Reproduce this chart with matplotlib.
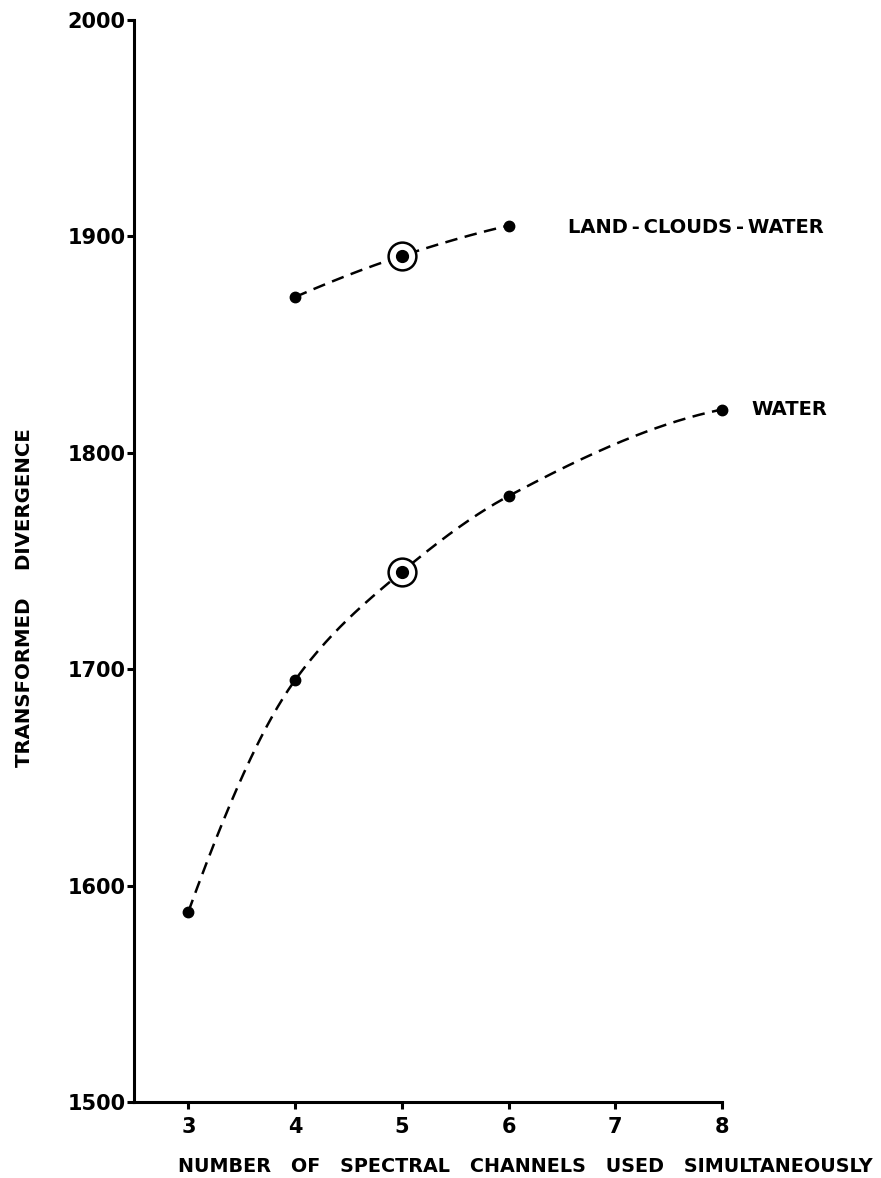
import numpy as np
import matplotlib
matplotlib.use("Agg")
import matplotlib.pyplot as plt

# ---- data ----
water_x = [3, 4, 5, 6, 8]
water_y = [1588, 1695, 1745, 1780, 1820]
lcw_x = [4, 5, 6]
lcw_y = [1872, 1891, 1905]
circled_x = [5, 5]
circled_y = [1745, 1891]
x_ticks = [3, 4, 5, 6, 7, 8]
y_ticks = [1500, 1600, 1700, 1800, 1900, 2000]
series_labels = ["WATER", "LAND\u2009-\u2009CLOUDS\u2009-\u2009WATER"]
x_title = "NUMBER   OF   SPECTRAL   CHANNELS   USED   SIMULTANEOUSLY"
y_title = "TRANSFORMED    DIVERGENCE"


def pchip(x, y, n=300):
    x = np.asarray(x, float)
    y = np.asarray(y, float)
    h = np.diff(x)
    d = np.diff(y) / h
    k = len(x)
    m = np.zeros(k)
    for i in range(1, k - 1):
        if d[i - 1] * d[i] > 0:
            w1 = 2 * h[i] + h[i - 1]
            w2 = h[i] + 2 * h[i - 1]
            m[i] = (w1 + w2) / (w1 / d[i - 1] + w2 / d[i])
    m[0] = ((2 * h[0] + h[1]) * d[0] - h[0] * d[1]) / (h[0] + h[1]) if k > 2 else d[0]
    m[-1] = ((2 * h[-1] + h[-2]) * d[-1] - h[-1] * d[-2]) / (h[-1] + h[-2]) if k > 2 else d[-1]
    if m[0] * d[0] <= 0:
        m[0] = 0
    if m[-1] * d[-1] <= 0:
        m[-1] = 0
    xs = np.linspace(x[0], x[-1], n)
    ys = np.empty_like(xs)
    for j, t in enumerate(xs):
        i = min(np.searchsorted(x, t, side="right") - 1, k - 2)
        hh = h[i]
        s = (t - x[i]) / hh
        h00 = 2 * s**3 - 3 * s**2 + 1
        h10 = s**3 - 2 * s**2 + s
        h01 = -2 * s**3 + 3 * s**2
        h11 = s**3 - s**2
        ys[j] = h00 * y[i] + h10 * hh * m[i] + h01 * y[i + 1] + h11 * hh * m[i + 1]
    return xs, ys


plt.rcParams["font.family"] = ["DejaVu Sans"]
plt.rcParams["font.weight"] = "bold"

fig = plt.figure(figsize=(8.81, 11.78), dpi=100)
ax = fig.add_axes([134 / 881, 76 / 1178, (722 - 134) / 881, (1102 - 20) / 1178])

ax.set_xlim(2.49, 8)
ax.set_ylim(1500, 2000)

for sx, sy in ((water_x, water_y), (lcw_x, lcw_y)):
    xs, ys = pchip(sx, sy)
    ax.plot(xs, ys, color="black", lw=1.8, dashes=(5, 3), zorder=2)
    ax.plot(sx, sy, "o", color="black", ms=7.5, zorder=4, clip_on=False)

ax.plot(circled_x, circled_y, "o", ms=20, mfc="white", mec="black", mew=1.8, zorder=3)
ax.plot(circled_x, circled_y, "o", ms=8.5, color="black", zorder=5)

ax.text(8.28, water_y[-1], series_labels[0], fontsize=14, fontweight="bold",
        va="center", ha="left", clip_on=False)
ax.text(6.56, lcw_y[-1] - 1, series_labels[1], fontsize=14, fontweight="bold",
        va="center", ha="left", clip_on=False)

ax.spines["top"].set_visible(False)
ax.spines["right"].set_visible(False)
ax.spines["left"].set_linewidth(2.2)
ax.spines["bottom"].set_linewidth(2.2)

ax.set_xticks(x_ticks)
ax.set_yticks(y_ticks)
ax.set_xticklabels([str(v) for v in x_ticks])
ax.set_yticklabels([str(v) for v in y_ticks])
ax.tick_params(axis="both", direction="out", length=5, width=2.2, labelsize=15)
ax.tick_params(axis="y", pad=1)
ax.tick_params(axis="x", pad=6)
for lab in ax.get_xticklabels() + ax.get_yticklabels():
    lab.set_fontweight("bold")

fig.text(525 / 881, 1 - 1166 / 1178, x_title, fontsize=13.8, fontweight="bold",
         ha="center", va="center")
fig.text(25 / 881, 1 - 598 / 1178, y_title, fontsize=14.2, fontweight="bold",
         ha="center", va="center", rotation=90)

fig.savefig("out.png", dpi=100, facecolor="white")
